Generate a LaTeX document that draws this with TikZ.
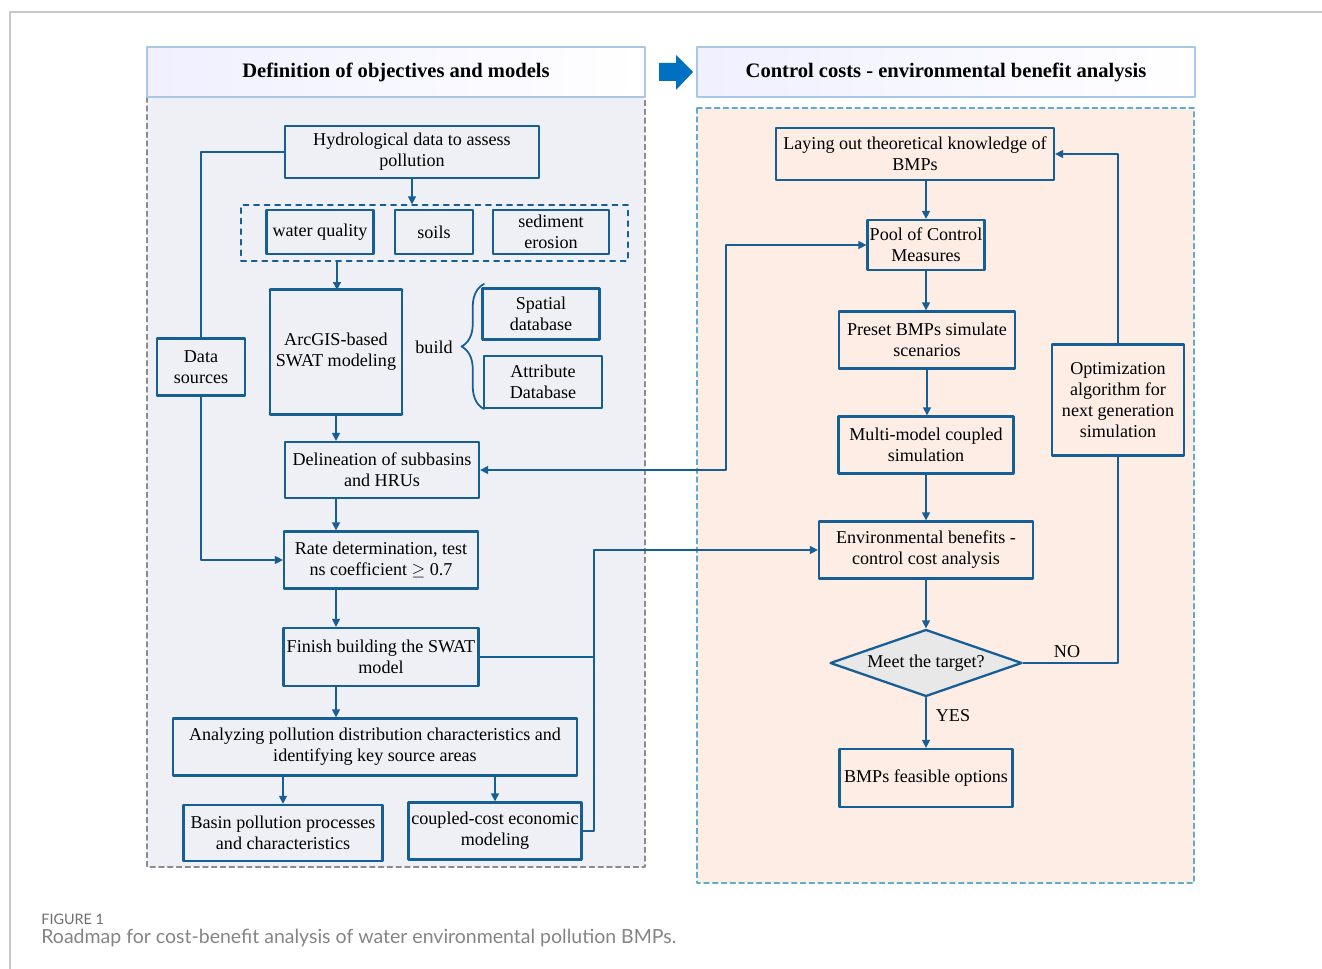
\documentclass[tikz,border=0pt]{standalone}
\usepackage{fontspec}
\setmainfont{Liberation Serif}
\newfontfamily\capfont{Lato}
\usetikzlibrary{arrows.meta,shapes.geometric,decorations.pathreplacing}

\definecolor{boxblue}{RGB}{22,94,150}
\definecolor{headline}{RGB}{168,200,230}
\definecolor{leftbg}{RGB}{238,240,245}
\definecolor{rightbg}{RGB}{253,237,229}
\definecolor{rightdash}{RGB}{90,175,205}
\definecolor{arrowblue}{RGB}{0,112,192}
\definecolor{capgray}{RGB}{110,110,110}

\begin{document}
\begin{tikzpicture}[x=0.02cm,y=-0.02cm,line cap=round,line join=round,
  box/.style={draw=boxblue,line width=1.3pt,align=center,inner sep=1pt,
    font=\fontsize{10.3}{12}\selectfont},
  link/.style={draw=boxblue,line width=0.8pt},
  tip/.style={-{Triangle[width=4.5pt,length=4.5pt]}},
  head/.style={draw=headline,line width=1pt,left color=blue!6,right color=white,
    minimum width=9.96cm,minimum height=1cm,font=\fontsize{11.7}{14}\selectfont\bfseries},
  lbl/.style={font=\fontsize{10.3}{12}\selectfont}]
  \useasboundingbox (0,0) rectangle (1322,969);
  % frame of the page
  \draw[line width=1pt,black!22] (10,969) -- (10,12) -- (1322,12);

  % panels
  \fill[leftbg] (147,97) rectangle (645,867);
  \draw[black!45,line width=0.6pt,dash pattern=on 3pt off 2pt] (147,97) rectangle (645,867);
  \fill[rightbg] (697,108) rectangle (1194,883);
  \draw[rightdash,line width=0.6pt,dash pattern=on 3pt off 2pt] (697,108) rectangle (1194,883);

  \node[head] (lhead) at (396,72) {Definition of objectives and models};
  \node[head] (rhead) at (946,72) {Control costs - environmental benefit analysis};
  \fill[arrowblue] (659,63) -- (676,63) -- (676,55) -- (693,72) -- (676,90) -- (676,81) -- (659,81) -- cycle;

  % left column
  \node[box,minimum width=5.08cm,minimum height=1.04cm] (hyd) at (412,152) {Hydrological data to assess\\pollution};
  \node[draw=boxblue,line width=0.8pt,dashed,minimum width=7.74cm,minimum height=1.12cm] (grp) at (434.5,233) {};
  \node[box,minimum width=2.14cm,minimum height=0.88cm] (wq) at (320,232) {water quality};
  \node[box,minimum width=1.56cm,minimum height=0.88cm] (soil) at (434,232) {soils};
  \node[box,minimum width=2.32cm,minimum height=0.88cm] (sed) at (551,232) {sediment\\erosion};
  \node[box,minimum width=2.64cm,minimum height=2.5cm] (arc) at (336,352) {ArcGIS-based\\SWAT modeling};
  \node[lbl] (build) at (434,347) {build};
  \draw[boxblue,line width=1pt,decorate,decoration={brace,amplitude=0.45cm}] (484,409) -- (484,284);
  \node[box,minimum width=2.34cm,minimum height=1.02cm] (spa) at (541,314) {Spatial\\database};
  \node[box,minimum width=2.36cm,minimum height=1.04cm] (att) at (543,382) {Attribute\\Database};
  \node[box,minimum width=1.76cm,minimum height=1.14cm] (data) at (201,367) {Data\\sources};
  \node[box,minimum width=3.88cm,minimum height=1.12cm] (del) at (382,470) {Delineation of subbasins\\and HRUs};
  \node[box,minimum width=3.88cm,minimum height=1.14cm] (rate) at (381,560) {Rate determination, test\\ns coefficient $\geq$ 0.7};
  \node[box,minimum width=3.9cm,minimum height=1.16cm] (fin) at (381,657) {Finish building the SWAT\\model};
  \node[box,minimum width=8.08cm,minimum height=1.14cm] (ana) at (375,747) {Analyzing pollution distribution characteristics and\\identifying key source areas};
  \node[box,minimum width=3.98cm,minimum height=1.12cm] (basin) at (283,833) {Basin pollution processes\\and characteristics};
  \node[box,minimum width=3.46cm,minimum height=1.14cm] (coup) at (495,831) {coupled-cost economic\\modeling};

  % right column
  \node[box,minimum width=5.56cm,minimum height=1.04cm] (lay) at (915,154) {Laying out theoretical knowledge of\\BMPs};
  \node[box,minimum width=2.34cm,minimum height=1cm] (pool) at (926,245) {Pool of Control\\Measures};
  \node[box,minimum width=3.52cm,minimum height=1.14cm] (pre) at (927,340) {Preset BMPs simulate\\scenarios};
  \node[box,minimum width=3.5cm,minimum height=1.14cm] (multi) at (926,445) {Multi-model coupled\\simulation};
  \node[box,minimum width=4.28cm,minimum height=1.14cm] (env) at (926,550) {Environmental benefits -\\control cost analysis};
  \node[box,diamond,fill=black!9,inner sep=0pt,aspect=2.9,minimum width=3.84cm,minimum height=1.34cm] (meet) at (926,663) {Meet the target?};
  \node[box,minimum width=3.46cm,minimum height=1.16cm] (bmp) at (926,778) {BMPs feasible options};
  \node[box,minimum width=2.64cm,minimum height=2.22cm] (opt) at (1118,400) {Optimization\\algorithm for\\next generation\\simulation};
  \coordinate (bus) at (594,550);
  \coordinate (jog) at (726,470);

  % left links
  \draw[link,tip] (hyd.south) -- (hyd.south |- grp.north);
  \draw[link,tip] (grp.south -| 337,0) -- (337,290);
  \draw[link,tip] (arc.south) -- (arc.south |- del.north);
  \draw[link,tip] (del.south -| arc.south) -- (arc.south |- rate.north);
  \draw[link,tip] (rate.south -| arc.south) -- (arc.south |- fin.north);
  \draw[link,tip] (fin.south -| arc.south) -- (arc.south |- ana.north);
  \draw[link,tip] (basin.north |- ana.south) -- (basin.north);
  \draw[link,tip] (coup.north |- ana.south) -- (coup.north);
  \draw[link] (hyd.west) -| (data.north);
  \draw[link,tip] (data.south) |- (rate.west);
  \draw[link] (fin.east) -- (fin.east -| bus);
  \draw[link,tip] (coup.east) -| (bus) -- (env.west);
  \draw[link,{Triangle[width=4.5pt,length=4.5pt]}-{Triangle[width=4.5pt,length=4.5pt]}] (del.east) -- (jog) |- (pool.west);

  % right links
  \draw[link,tip] (pool.north |- lay.south) -- (pool.north);
  \draw[link,tip] (pool.south) -- (pool.south |- pre.north);
  \draw[link,tip] (pre.south) -- (pre.south |- multi.north);
  \draw[link,tip] (multi.south) -- (multi.south |- env.north);
  \draw[link,tip] (env.south) -- (meet.north);
  \draw[link,tip] (meet.south) -- (bmp.north);
  \draw[link] (meet.east) -| (opt.south);
  \draw[link,tip] (opt.north) |- (lay.east);
  \node[lbl] (yes) at (953,716) {YES};
  \node[lbl] (no) at (1067,652) {NO};

  % caption
  \node[anchor=base west,inner sep=0pt,text=capgray,font=\capfont\fontsize{8.2}{10}\selectfont] (fig) at (41,924) {FIGURE 1};
  \node[anchor=base west,inner sep=0pt,text=capgray!85,font=\capfont\fontsize{11.1}{13}\selectfont] (cap) at (41,943) {Roadmap for cost-benefit analysis of water environmental pollution BMPs.};
\end{tikzpicture}
\end{document}
